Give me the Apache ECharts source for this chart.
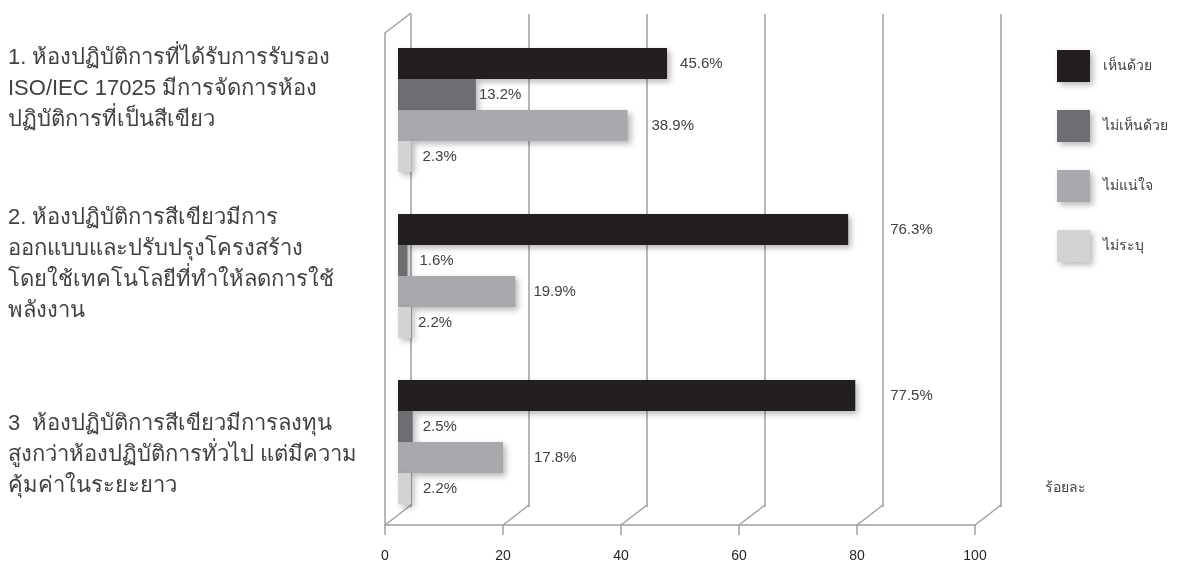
<!DOCTYPE html>
<html>
<head>
<meta charset="utf-8">
<script src="https://cdn.jsdelivr.net/npm/echarts@6/dist/echarts.min.js"></script>
<style>
html,body{margin:0;padding:0;background:#fff;}
#c{width:1178px;height:563px;}
</style>
</head>
<body>
<div id="c"></div>
<script>
// ---- data ----
const categories = [
  '1. ห้องปฏิบัติการที่ได้รับการรับรอง\nISO/IEC 17025 มีการจัดการห้อง\nปฏิบัติการที่เป็นสีเขียว',
  '2. ห้องปฏิบัติการสีเขียวมีการ\nออกแบบและปรับปรุงโครงสร้าง\nโดยใช้เทคโนโลยีที่ทำให้ลดการใช้\nพลังงาน',
  '3  ห้องปฏิบัติการสีเขียวมีการลงทุน\nสูงกว่าห้องปฏิบัติการทั่วไป แต่มีความ\nคุ้มค่าในระยะยาว'
];
const seriesNames = ['เห็นด้วย', 'ไม่เห็นด้วย', 'ไม่แน่ใจ', 'ไม่ระบุ'];
const agree    = [45.6, 76.3, 77.5];
const disagree = [13.2, 1.6, 2.5];
const unsure   = [38.9, 19.9, 17.8];
const noAnswer = [2.3, 2.2, 2.2];
const xTicks = [0, 20, 40, 60, 80, 100];
const unitLabel = 'ร้อยละ';

// ---- style / layout ----
const colors = ['#231f20', '#6d6e71', '#a7a9ac', '#d1d3d4'];
const gridColor = '#a0a0a0';
const font = '"Liberation Sans", Arial, sans-serif';
const depth = [26, -20];
const labelGaps = [[13, 42, 35], [3, 12, 10], [24, 18, 31], [11, 7, 12]];
const textTops = [42, 202, 408];

const values = [agree, disagree, unsure, noAnswer];

const barSeries = values.map((arr, si) => ({
  name: seriesNames[si],
  type: 'bar',
  xAxisIndex: 0, yAxisIndex: 0,
  barGap: '0%',
  barCategoryGap: '25.3%',
  z: 5,
  itemStyle: {
    color: colors[si],
    shadowColor: 'rgba(0,0,0,0.28)',
    shadowBlur: 6, shadowOffsetX: 3, shadowOffsetY: 3
  },
  data: arr.map((v, i) => ({
    value: v,
    label: { distance: labelGaps[si][i] }
  })),
  label: {
    show: true, position: 'right',
    formatter: p => p.value.toFixed(1) + '%',
    color: '#414042', fontSize: 15, fontFamily: font
  }
}));

const option = {
  animation: false,
  backgroundColor: '#fff',
  legend: {
    orient: 'vertical',
    left: 1057, top: 50, padding: 0,
    itemWidth: 33, itemHeight: 32, itemGap: 28,
    icon: 'rect',
    data: seriesNames,
    textStyle: { color: '#414042', fontSize: 14, fontFamily: font, padding: [0, 0, 0, 8] },
    itemStyle: { shadowColor: 'rgba(0,0,0,0.28)', shadowBlur: 6, shadowOffsetX: 3, shadowOffsetY: 3 },
    selectedMode: false
  },
  grid: [
    { left: 398, top: 27, width: 590, height: 498 },
    { left: 411, top: 14, width: 590, height: 493 },
    { left: 385, top: 33, width: 590, height: 494 }
  ],
  xAxis: [
    { gridIndex: 0, type: 'value', min: 0, max: 100, interval: 20, show: false },
    { gridIndex: 1, type: 'value', min: 0, max: 100, interval: 20,
      axisLine: { show: false }, axisTick: { show: false }, axisLabel: { show: false },
      splitLine: { show: true, lineStyle: { color: gridColor, width: 1.5 } } },
    { gridIndex: 2, type: 'value', min: 0, max: 100, interval: 20,
      axisLine: { show: true, lineStyle: { color: gridColor, width: 1.5 } },
      axisTick: { show: true, length: 10, lineStyle: { color: gridColor, width: 1.5 } },
      axisLabel: { color: '#231f20', fontSize: 14, fontFamily: font, margin: 24 },
      splitLine: { show: false } }
  ],
  yAxis: [
    { gridIndex: 0, type: 'category', data: categories, inverse: true, show: false },
    { gridIndex: 1, type: 'value', min: 0, max: 1, show: false },
    { gridIndex: 2, type: 'value', min: 0, max: 1,
      axisLine: { show: true, lineStyle: { color: gridColor, width: 1.5 } },
      axisTick: { show: false }, axisLabel: { show: false }, splitLine: { show: false } }
  ],
  graphic: categories.map((t, i) => ({
    type: 'text', left: 8, top: textTops[i], z: 10,
    style: { text: t, fill: '#414042', font: '22px ' + font, lineHeight: 31 }
  })).concat([{
    type: 'text', left: 1045, top: 481,
    style: { text: unitLabel, fill: '#414042', font: '14px ' + font }
  }]),
  series: [
    { type: 'custom', xAxisIndex: 2, yAxisIndex: 2, z: 1, silent: true,
      data: xTicks.map(v => [v, 0]),
      renderItem: (params, api) => {
        const p = api.coord([api.value(0), api.value(1)]);
        return { type: 'line', shape: { x1: p[0], y1: p[1], x2: p[0] + depth[0], y2: p[1] + depth[1] },
                 style: { stroke: gridColor, lineWidth: 1.5 } };
      } },
    { type: 'custom', xAxisIndex: 2, yAxisIndex: 2, z: 1, silent: true,
      data: [[0, 1]],
      renderItem: (params, api) => {
        const p = api.coord([api.value(0), api.value(1)]);
        return { type: 'line', shape: { x1: p[0], y1: p[1], x2: p[0] + depth[0], y2: p[1] + depth[1] },
                 style: { stroke: gridColor, lineWidth: 1.5 } };
      } }
  ].concat(barSeries)
};

const chart = echarts.init(document.getElementById('c'), null, { renderer: 'canvas' });
chart.setOption(option);
</script>
</body>
</html>
